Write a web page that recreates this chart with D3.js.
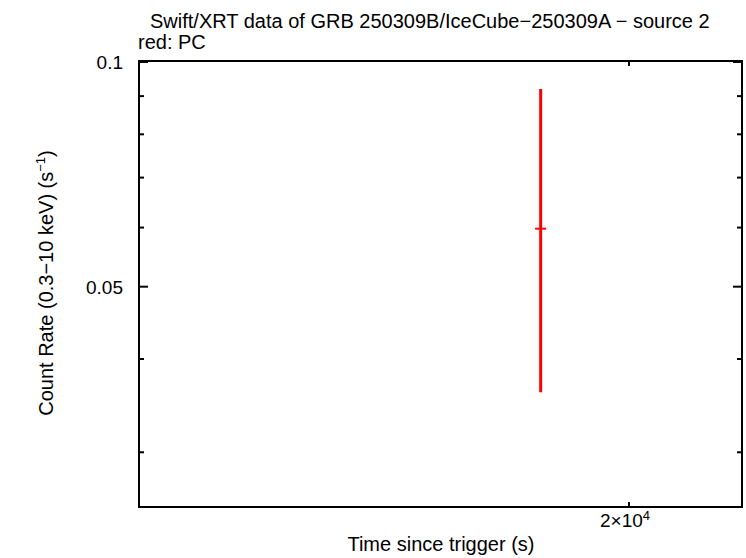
<!DOCTYPE html>
<html>
<head>
<meta charset="utf-8">
<script src="https://cdn.jsdelivr.net/npm/d3@7"></script>
<style>
  body { margin: 0; background: #fff; }
  svg { display: block; }
  text { font-family: "Liberation Sans", Arial, sans-serif; fill: #000; }
</style>
</head>
<body>
<div id="chart"></div>
<script>
// PC mode point (time in s, rate in counts/s)
var times = [18240];
var timeErrLo = [105];
var timeErrHi = [105];
var rates = [0.0598];
var rateErrLo = [0.0237];
var rateErrHi = [0.0322];

var yMajor = [0.1, 0.05];
var yMajorLabels = ["0.1", "0.05"];
var yMinor = [0.09, 0.08, 0.07, 0.06, 0.04, 0.03];
var xMajor = [20000];

var W = 746, H = 558;
var margin = {left: 139, right: 4, top: 61, bottom: 51};

var svg = d3.select("#chart").append("svg")
    .attr("width", W)
    .attr("height", H);

var x = d3.scaleLog()
    .domain([12000, 22500])
    .range([margin.left, W - margin.right]);

var y = d3.scaleLog()
    .domain([0.02534, 0.1003])
    .range([H - margin.bottom, margin.top]);

var x0 = margin.left, x1 = W - margin.right;
var y0 = H - margin.bottom, y1 = margin.top;

// ticks (inward, on all four sides)
function tick(xa, ya, xb, yb) {
    svg.append("line")
        .attr("x1", xa).attr("y1", ya)
        .attr("x2", xb).attr("y2", yb)
        .attr("stroke", "#000")
        .attr("stroke-width", 2);
}

yMajor.forEach(function (v) {
    tick(x0, y(v), x0 + 9, y(v));
    tick(x1, y(v), x1 - 9, y(v));
});
yMinor.forEach(function (v) {
    tick(x0, y(v), x0 + 5, y(v));
    tick(x1, y(v), x1 - 5, y(v));
});
xMajor.forEach(function (v) {
    tick(x(v), y0, x(v), y0 - 5);
    tick(x(v), y1, x(v), y1 + 5);
});

// frame
svg.append("rect")
    .attr("x", x0).attr("y", y1)
    .attr("width", x1 - x0).attr("height", y0 - y1)
    .attr("fill", "none")
    .attr("stroke", "#000")
    .attr("stroke-width", 2);

// tick labels
svg.selectAll(".ylab")
    .data(yMajor)
    .enter()
    .append("text")
    .attr("x", x0 - 16)
    .attr("y", function (d) { return y(d) + 7; })
    .attr("text-anchor", "end")
    .attr("font-size", 19)
    .text(function (d, i) { return yMajorLabels[i]; });

var xl = svg.selectAll(".xlab")
    .data(xMajor)
    .enter()
    .append("text")
    .attr("x", function (d) { return x(d) - 4; })
    .attr("y", y0 + 20)
    .attr("text-anchor", "middle")
    .attr("font-size", 19);
xl.append("tspan").text("2×10");
xl.append("tspan").attr("font-size", 13).attr("dy", -7).text("4");

// axis titles
svg.append("text")
    .attr("x", 441)
    .attr("y", 551)
    .attr("text-anchor", "middle")
    .attr("font-size", 20)
    .text("Time since trigger (s)");

var yt = svg.append("text")
    .attr("transform", "translate(53," + 283 + ") rotate(-90)")
    .attr("text-anchor", "middle")
    .attr("font-size", 20);
yt.append("tspan").text("Count Rate (0.3\u221210 keV) (s");
yt.append("tspan").attr("font-size", 13).attr("dy", -8).text("\u22121");
yt.append("tspan").attr("dy", 8).text(")");

// title
svg.append("text")
    .attr("x", 150)
    .attr("y", 28)
    .attr("font-size", 20)
    .text("Swift/XRT data of GRB 250309B/IceCube\u2212250309A \u2212 source 2");
svg.append("text")
    .attr("x", 138)
    .attr("y", 49)
    .attr("font-size", 20)
    .text("red: PC");

// data with error bars
var pts = times.map(function (t, i) {
    return {t: t, tl: timeErrLo[i], th: timeErrHi[i], r: rates[i], rl: rateErrLo[i], rh: rateErrHi[i]};
});

var g = svg.selectAll(".pt")
    .data(pts)
    .enter()
    .append("g")
    .attr("class", "pt");

g.append("line")
    .attr("x1", function (d) { return x(d.t); })
    .attr("x2", function (d) { return x(d.t); })
    .attr("y1", function (d) { return y(d.r - d.rl); })
    .attr("y2", function (d) { return y(d.r + d.rh); })
    .attr("stroke", "#ff0000")
    .attr("stroke-width", 3);

g.append("line")
    .attr("x1", function (d) { return x(d.t - d.tl); })
    .attr("x2", function (d) { return x(d.t + d.th); })
    .attr("y1", function (d) { return y(d.r); })
    .attr("y2", function (d) { return y(d.r); })
    .attr("stroke", "#ff0000")
    .attr("stroke-width", 2);
</script>
</body>
</html>
